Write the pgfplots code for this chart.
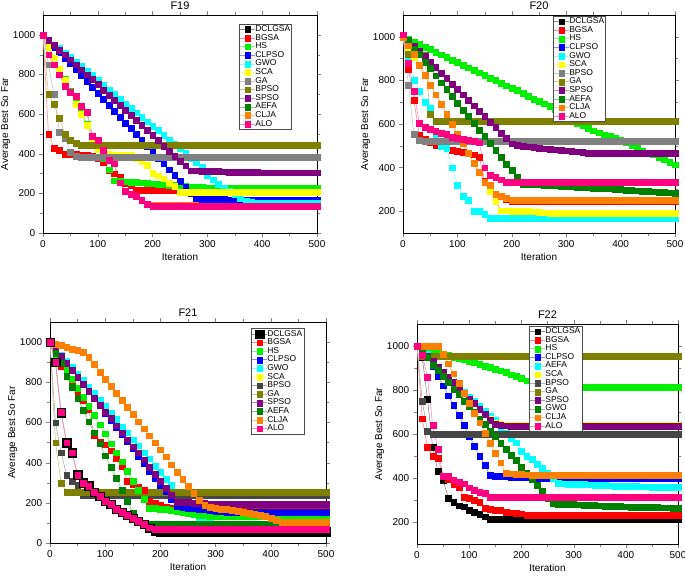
\documentclass[border=0pt]{standalone}
\usepackage{pgfplots}
\pgfplotsset{compat=1.18}
\usepackage{fontspec}
\setmainfont{Liberation Sans}
\definecolor{cBlack}{RGB}{0,0,0}
\definecolor{cRed}{RGB}{255,0,0}
\definecolor{cGreen}{RGB}{0,240,0}
\definecolor{cBlue}{RGB}{0,0,255}
\definecolor{cCyan}{RGB}{0,255,255}
\definecolor{cYellow}{RGB}{255,255,0}
\definecolor{cGray}{RGB}{128,128,128}
\definecolor{cDGray}{RGB}{70,70,70}
\definecolor{cOlive}{RGB}{128,128,0}
\definecolor{cPurple}{RGB}{128,0,128}
\definecolor{cDGreen}{RGB}{0,128,0}
\definecolor{cOrange}{RGB}{255,128,0}
\definecolor{cPink}{RGB}{255,0,128}
\pgfplotsset{
  ser/.style={color=#1!45!white, line width=0.6pt, mark=square*, mark size=2.9pt,
    mark options={fill=#1, draw=#1, line width=0.1pt, solid}},
  panel/.style={scale only axis, xmin=0, xmax=500, ymax=1100,
    xtick={0,100,...,500}, tick align=outside, minor x tick num=1, minor y tick num=1,
    tick label style={font=\fontsize{10}{11}\selectfont},
    /pgf/number format/assume math mode=true, /pgf/number format/1000 sep={},
    scaled ticks=false,
    label style={font=\fontsize{10}{12}\selectfont},
    title style={font=\fontsize{11}{13}\selectfont, yshift=-4pt},
    xlabel={Iteration}, ylabel={Average Best So Far},
    xlabel style={yshift=1pt}, ylabel style={yshift=-4pt},
    legend cell align=left,
    legend image code/.code={\draw[mark repeat=2,mark phase=2] plot coordinates {(0cm,0cm) (0.25cm,0cm) (0.5cm,0cm)};},
    legend style={draw=black!70, fill=white, font=\fontsize{8.5}{9}\selectfont,
      inner sep=1pt, anchor=north west,
      nodes={inner sep=0.4pt, text height=6pt, text depth=1.8pt}},
  },
}
\begin{document}
\begin{tikzpicture}
\path[use as bounding box] (0,0) rectangle (685pt,-577pt);
% ---------------- F19 ----------------
\begin{axis}[panel, at={(43pt,-233pt)}, anchor=south west, width=274pt, height=218pt,
  ymin=0, ytick={0,200,...,1000}, title={F19},
  legend style={at={(0.715,0.959)}}]
\addlegendimage{ser=cBlack}\addlegendentry{DCLGSA}
\addlegendimage{ser=cRed}\addlegendentry{BGSA}
\addlegendimage{ser=cGreen}\addlegendentry{HS}
\addlegendimage{ser=cBlue}\addlegendentry{CLPSO}
\addlegendimage{ser=cCyan}\addlegendentry{GWO}
\addlegendimage{ser=cYellow}\addlegendentry{SCA}
\addlegendimage{ser=cGray}\addlegendentry{GA}
\addlegendimage{ser=cOlive}\addlegendentry{BPSO}
\addlegendimage{ser=cPurple}\addlegendentry{SPSO}
\addlegendimage{ser=cDGreen}\addlegendentry{AEFA}
\addlegendimage{ser=cOrange}\addlegendentry{CLJA}
\addlegendimage{ser=cPink}\addlegendentry{ALO}
% DCLGSA
\addplot[ser=cBlack, forget plot] coordinates {(0,1000)(10,900)(20,850)(30,800)(40,740)(50,710)(60,690)(70,640)(80,610)(90,490)(100,470)(110,420)(120,370)(130,350)(140,255)(150,210)(160,195)(170,185)(180,165)(190,145)(200,137)(210,137)(220,137)(230,137)(240,137)(250,137)(260,137)(270,137)(280,137)(290,137)(300,137)(310,137)(320,137)(330,137)(340,137)(350,137)(360,137)(370,137)(380,137)(390,137)(400,137)(410,137)(420,137)(430,137)(440,137)(450,137)(460,137)(470,137)(480,137)(490,137)(500,137)};
% AEFA
\addplot[ser=cDGreen, forget plot] coordinates {(0,1000)(10,943)(20,885)(30,830)(40,775)(50,715)(60,660)(70,610)(80,550)(90,490)(100,440)(110,380)(120,320)(130,265)(140,262)(150,260)(160,258)(170,256)(180,255)(190,252)(200,250)(210,248)(220,245)(230,243)(240,240)(250,237)(260,235)(270,233)(280,231)(290,230)(300,229)(310,228)(320,227)(330,226)(340,225)(350,225)(360,225)(370,225)(380,225)(390,225)(400,225)(410,225)(420,225)(430,225)(440,225)(450,225)(460,225)(470,225)(480,225)(490,225)(500,225)};
% CLJA
\addplot[ser=cOrange, forget plot] coordinates {(0,1000)(10,900)(20,850)(30,800)(40,740)(50,710)(60,690)(70,640)(80,612)(90,492)(100,472)(110,422)(120,372)(130,352)(140,258)(150,213)(160,198)(170,188)(180,168)(190,148)(200,142)(210,142)(220,142)(230,142)(240,142)(250,142)(260,142)(270,142)(280,142)(290,142)(300,142)(310,142)(320,142)(330,142)(340,142)(350,142)(360,142)(370,142)(380,142)(390,142)(400,142)(410,142)(420,142)(430,142)(440,142)(450,142)(460,142)(470,142)(480,142)(490,142)(500,142)};
% BGSA
\addplot[ser=cRed, forget plot] coordinates {(0,1000)(10,500)(20,430)(30,420)(40,400)(50,398)(60,400)(70,396)(80,393)(90,390)(100,380)(110,360)(120,315)(130,300)(140,285)(150,250)(160,240)(170,215)(180,215)(190,215)(200,215)(210,215)(220,215)(230,215)(240,215)(250,215)(260,215)(270,215)(280,215)(290,215)(300,215)(310,215)(320,215)(330,215)(340,215)(350,215)(360,215)(370,215)(380,215)(390,215)(400,215)(410,215)(420,215)(430,215)(440,215)(450,215)(460,215)(470,215)(480,215)(490,215)(500,215)};
% HS
\addplot[ser=cGreen, forget plot] coordinates {(0,1000)(10,943)(20,885)(30,830)(40,775)(50,715)(60,660)(70,610)(80,550)(90,490)(100,440)(110,380)(120,320)(130,265)(140,262)(150,260)(160,258)(170,256)(180,255)(190,252)(200,250)(210,248)(220,245)(230,243)(240,240)(250,237)(260,235)(270,233)(280,231)(290,230)(300,229)(310,228)(320,227)(330,226)(340,225)(350,225)(360,225)(370,225)(380,225)(390,225)(400,225)(410,225)(420,225)(430,225)(440,225)(450,225)(460,225)(470,225)(480,225)(490,225)(500,225)};
% CLPSO
\addplot[ser=cBlue, forget plot] coordinates {(0,1000)(10,970)(20,940)(30,912)(40,880)(50,855)(60,825)(70,795)(80,765)(90,735)(100,705)(110,675)(120,645)(130,615)(140,585)(150,555)(160,528)(170,498)(180,470)(190,440)(200,410)(210,380)(220,351)(230,320)(240,292)(250,262)(260,233)(270,200)(280,174)(290,173)(300,172)(310,171)(320,170)(330,170)(340,169)(350,168)(360,167)(370,166)(380,166)(390,166)(400,166)(410,166)(420,166)(430,166)(440,166)(450,166)(460,166)(470,166)(480,166)(490,166)(500,166)};
% GWO
\addplot[ser=cCyan, forget plot] coordinates {(0,1000)(10,975)(20,950)(30,932)(40,910)(50,888)(60,865)(70,842)(80,818)(90,795)(100,770)(110,748)(120,722)(130,700)(140,675)(150,652)(160,630)(170,608)(180,585)(190,562)(200,540)(210,518)(220,495)(230,472)(240,450)(250,427)(260,405)(270,380)(280,358)(290,335)(300,292)(310,270)(320,248)(330,228)(340,210)(350,195)(360,175)(370,160)(380,155)(390,153)(400,150)(410,150)(420,150)(430,150)(440,150)(450,150)(460,150)(470,150)(480,150)(490,150)(500,150)};
% SCA
\addplot[ser=cYellow, forget plot] coordinates {(0,1000)(10,940)(20,885)(30,830)(40,770)(50,710)(60,650)(70,600)(80,545)(90,480)(100,422)(110,400)(120,397)(130,396)(140,395)(150,394)(160,392)(170,380)(180,363)(190,343)(200,304)(210,290)(220,275)(230,253)(240,236)(250,206)(260,205)(270,205)(280,205)(290,205)(300,205)(310,205)(320,205)(330,205)(340,205)(350,205)(360,205)(370,205)(380,205)(390,205)(400,205)(410,205)(420,205)(430,205)(440,205)(450,205)(460,205)(470,205)(480,205)(490,205)(500,205)};
% GA
\addplot[ser=cGray, forget plot] coordinates {(0,1000)(10,850)(20,700)(30,510)(40,478)(50,408)(60,390)(70,383)(80,383)(90,383)(100,383)(110,383)(120,383)(130,383)(140,383)(150,383)(160,383)(170,383)(180,383)(190,383)(200,383)(210,383)(220,383)(230,383)(240,383)(250,383)(260,383)(270,383)(280,383)(290,383)(300,383)(310,383)(320,383)(330,383)(340,383)(350,383)(360,383)(370,383)(380,383)(390,383)(400,383)(410,383)(420,383)(430,383)(440,383)(450,383)(460,383)(470,383)(480,383)(490,383)(500,383)};
% BPSO
\addplot[ser=cOlive, forget plot] coordinates {(0,1000)(10,700)(20,650)(30,578)(40,500)(50,470)(60,455)(70,445)(80,445)(90,445)(100,445)(110,445)(120,445)(130,445)(140,445)(150,445)(160,445)(170,445)(180,445)(190,445)(200,445)(210,445)(220,445)(230,445)(240,445)(250,445)(260,445)(270,445)(280,445)(290,445)(300,445)(310,445)(320,445)(330,445)(340,445)(350,445)(360,445)(370,445)(380,445)(390,445)(400,445)(410,445)(420,445)(430,445)(440,445)(450,445)(460,445)(470,445)(480,445)(490,445)(500,445)};
% SPSO
\addplot[ser=cPurple, forget plot] coordinates {(0,1000)(10,975)(20,950)(30,925)(40,900)(50,875)(60,850)(70,825)(80,800)(90,775)(100,750)(110,722)(120,697)(130,670)(140,645)(150,620)(160,595)(170,570)(180,545)(190,520)(200,495)(210,467)(220,440)(230,415)(240,390)(250,365)(260,340)(270,315)(280,315)(290,314)(300,313)(310,312)(320,311)(330,310)(340,309)(350,308)(360,308)(370,307)(380,307)(390,306)(400,305)(410,305)(420,305)(430,305)(440,305)(450,305)(460,305)(470,305)(480,305)(490,305)(500,305)};
% ALO
\addplot[ser=cPink, forget plot] coordinates {(0,1000)(10,900)(20,850)(30,800)(40,740)(50,710)(60,690)(70,640)(80,610)(90,490)(100,470)(110,420)(120,370)(130,350)(140,255)(150,210)(160,195)(170,185)(180,165)(190,145)(200,137)(210,137)(220,137)(230,137)(240,137)(250,137)(260,137)(270,137)(280,137)(290,137)(300,137)(310,137)(320,137)(330,137)(340,137)(350,137)(360,137)(370,137)(380,137)(390,137)(400,137)(410,137)(420,137)(430,137)(440,137)(450,137)(460,137)(470,137)(480,137)(490,137)(500,137)};
\end{axis}
% ---------------- F20 ----------------
\begin{axis}[panel, at={(403pt,-233pt)}, anchor=south west, width=272pt, height=218pt,
  ymin=100, ytick={200,400,...,1000}, title={F20},
  legend style={at={(0.551,0.995)}}]
\addlegendimage{ser=cBlack}\addlegendentry{DCLGSA}
\addlegendimage{ser=cRed}\addlegendentry{BGSA}
\addlegendimage{ser=cGreen}\addlegendentry{HS}
\addlegendimage{ser=cBlue}\addlegendentry{CLPSO}
\addlegendimage{ser=cCyan}\addlegendentry{GWO}
\addlegendimage{ser=cYellow}\addlegendentry{SCA}
\addlegendimage{ser=cGray}\addlegendentry{BPSO}
\addlegendimage{ser=cOlive}\addlegendentry{GA}
\addlegendimage{ser=cPurple}\addlegendentry{SPSO}
\addlegendimage{ser=cDGreen}\addlegendentry{AEFA}
\addlegendimage{ser=cOrange}\addlegendentry{CLJA}
\addlegendimage{ser=cPink}\addlegendentry{ALO}
% DCLGSA
\addplot[ser=cBlack, forget plot] coordinates {(0,1000)(10,950)(20,905)(30,870)(40,825)(50,780)(60,735)(70,690)(80,645)(90,600)(100,555)(110,510)(120,465)(130,420)(140,380)(150,335)(160,290)(170,247)(180,203)(190,203)(200,202)(210,201)(220,200)(230,199)(240,198)(250,196)(260,194)(270,193)(280,192)(290,191)(300,190)(310,190)(320,190)(330,190)(340,190)(350,190)(360,190)(370,190)(380,190)(390,190)(400,190)(410,190)(420,190)(430,190)(440,190)(450,190)(460,190)(470,190)(480,190)(490,190)(500,190)};
% CLPSO
\addplot[ser=cBlue, forget plot] coordinates {(0,1000)(10,950)(20,905)(30,870)(40,825)(50,780)(60,735)(70,690)(80,645)(90,600)(100,555)(110,510)(120,465)(130,420)(140,380)(150,335)(160,290)(170,247)(180,203)(190,203)(200,202)(210,201)(220,200)(230,199)(240,198)(250,196)(260,194)(270,193)(280,192)(290,191)(300,190)(310,190)(320,190)(330,190)(340,190)(350,190)(360,190)(370,190)(380,190)(390,190)(400,190)(410,190)(420,190)(430,190)(440,190)(450,190)(460,190)(470,190)(480,190)(490,190)(500,190)};
% BGSA
\addplot[ser=cRed, forget plot] coordinates {(0,1000)(10,850)(20,710)(30,550)(40,530)(50,515)(60,505)(70,500)(80,495)(90,480)(100,475)(110,470)(120,465)(130,460)(140,450)(150,340)(160,305)(170,280)(180,270)(190,255)(200,245)(210,245)(220,245)(230,245)(240,245)(250,245)(260,245)(270,245)(280,245)(290,245)(300,245)(310,245)(320,245)(330,245)(340,245)(350,245)(360,245)(370,245)(380,245)(390,245)(400,245)(410,245)(420,245)(430,245)(440,245)(450,245)(460,245)(470,245)(480,245)(490,245)(500,245)};
% HS
\addplot[ser=cGreen, forget plot] coordinates {(0,1000)(10,990)(20,978)(30,966)(40,954)(50,942)(60,930)(70,919)(80,907)(90,895)(100,883)(110,871)(120,859)(130,848)(140,836)(150,825)(160,812)(170,800)(180,787)(190,776)(200,765)(210,754)(220,741)(230,727)(240,714)(250,704)(260,694)(270,684)(280,668)(290,652)(300,636)(310,621)(320,606)(330,594)(340,582)(350,570)(360,561)(370,552)(380,544)(390,536)(400,529)(410,516)(420,503)(430,489)(440,475)(450,468)(460,460)(470,449)(480,437)(490,426)(500,414)};
% GWO
\addplot[ser=cCyan, forget plot] coordinates {(0,1000)(10,900)(20,800)(30,750)(40,700)(50,675)(60,540)(70,500)(80,490)(90,400)(100,320)(110,270)(120,250)(130,200)(140,200)(150,188)(160,170)(170,170)(180,170)(190,170)(200,170)(210,170)(220,170)(230,170)(240,170)(250,170)(260,170)(270,170)(280,170)(290,170)(300,170)(310,170)(320,170)(330,170)(340,170)(350,170)(360,170)(370,170)(380,170)(390,170)(400,170)(410,170)(420,170)(430,170)(440,170)(450,170)(460,170)(470,170)(480,170)(490,170)(500,170)};
% SCA
\addplot[ser=cYellow, forget plot] coordinates {(0,1000)(10,950)(20,905)(30,870)(40,825)(50,780)(60,735)(70,690)(80,645)(90,600)(100,555)(110,510)(120,465)(130,420)(140,380)(150,335)(160,290)(170,247)(180,203)(190,203)(200,202)(210,201)(220,200)(230,199)(240,198)(250,196)(260,194)(270,193)(280,192)(290,191)(300,190)(310,190)(320,190)(330,190)(340,190)(350,190)(360,190)(370,190)(380,190)(390,190)(400,190)(410,190)(420,190)(430,190)(440,190)(450,190)(460,190)(470,190)(480,190)(490,190)(500,190)};
% BPSO
\addplot[ser=cGray, forget plot] coordinates {(0,1000)(10,780)(20,553)(30,527)(40,520)(50,520)(60,520)(70,520)(80,520)(90,520)(100,520)(110,520)(120,520)(130,520)(140,520)(150,520)(160,520)(170,520)(180,520)(190,520)(200,520)(210,520)(220,520)(230,520)(240,520)(250,520)(260,520)(270,520)(280,520)(290,520)(300,520)(310,520)(320,520)(330,520)(340,520)(350,520)(360,520)(370,520)(380,520)(390,520)(400,520)(410,520)(420,520)(430,520)(440,520)(450,520)(460,520)(470,520)(480,520)(490,520)(500,520)};
% GA
\addplot[ser=cOlive, forget plot] coordinates {(0,1000)(10,920)(20,920)(30,920)(40,916)(50,645)(60,615)(70,615)(80,615)(90,615)(100,615)(110,615)(120,615)(130,615)(140,615)(150,615)(160,615)(170,615)(180,615)(190,615)(200,615)(210,615)(220,615)(230,615)(240,615)(250,615)(260,615)(270,615)(280,615)(290,615)(300,615)(310,615)(320,615)(330,615)(340,615)(350,615)(360,615)(370,615)(380,615)(390,615)(400,615)(410,615)(420,615)(430,615)(440,615)(450,615)(460,615)(470,615)(480,615)(490,615)(500,615)};
% SPSO
\addplot[ser=cPurple, forget plot] coordinates {(0,1000)(10,980)(20,960)(30,935)(40,910)(50,885)(60,860)(70,835)(80,810)(90,785)(100,760)(110,735)(120,710)(130,685)(140,660)(150,635)(160,610)(170,585)(180,560)(190,535)(200,510)(210,505)(220,500)(230,497)(240,494)(250,490)(260,487)(270,485)(280,483)(290,480)(300,478)(310,476)(320,474)(330,471)(340,468)(350,466)(360,465)(370,465)(380,465)(390,465)(400,465)(410,465)(420,465)(430,465)(440,465)(450,465)(460,465)(470,465)(480,465)(490,465)(500,465)};
% AEFA
\addplot[ser=cDGreen, forget plot] coordinates {(0,1000)(10,985)(20,945)(30,920)(40,885)(50,855)(60,822)(70,790)(80,760)(90,728)(100,697)(110,665)(120,635)(130,605)(140,573)(150,543)(160,512)(170,480)(180,450)(190,418)(200,388)(210,355)(220,325)(230,325)(240,324)(250,323)(260,321)(270,320)(280,318)(290,316)(300,315)(310,313)(320,312)(330,311)(340,310)(350,308)(360,307)(370,305)(380,304)(390,302)(400,300)(410,298)(420,297)(430,295)(440,293)(450,291)(460,290)(470,288)(480,287)(490,286)(500,285)};
% CLJA
\addplot[ser=cOrange, forget plot] coordinates {(0,1000)(10,960)(20,920)(30,870)(40,825)(50,780)(60,735)(70,690)(80,645)(90,600)(100,555)(110,510)(120,465)(130,420)(140,380)(150,335)(160,320)(170,280)(180,270)(190,260)(200,250)(210,250)(220,250)(230,250)(240,250)(250,250)(260,250)(270,250)(280,250)(290,250)(300,250)(310,250)(320,250)(330,250)(340,250)(350,250)(360,250)(370,250)(380,250)(390,250)(400,250)(410,250)(420,250)(430,250)(440,250)(450,250)(460,250)(470,250)(480,250)(490,250)(500,250)};
% ALO
\addplot[ser=cPink, forget plot] coordinates {(0,1010)(10,880)(20,750)(30,603)(40,587)(50,577)(60,567)(70,560)(80,553)(90,540)(100,535)(110,530)(120,525)(130,520)(140,515)(150,400)(160,365)(170,355)(180,345)(190,335)(200,335)(210,335)(220,335)(230,335)(240,335)(250,335)(260,335)(270,335)(280,335)(290,335)(300,335)(310,335)(320,335)(330,335)(340,335)(350,335)(360,335)(370,335)(380,335)(390,335)(400,335)(410,335)(420,335)(430,335)(440,335)(450,335)(460,335)(470,335)(480,335)(490,335)(500,335)};
\end{axis}
% ---------------- F21 ----------------
\begin{axis}[panel, at={(50pt,-543pt)}, anchor=south west, width=276pt, height=221pt,
  ymin=0, ytick={0,200,...,1000}, title={F21},
  legend style={at={(0.728,0.971)}}]
\addlegendimage{ser=cBlack, mark size=4.2pt}\addlegendentry{DCLGSA}
\addlegendimage{ser=cRed}\addlegendentry{BGSA}
\addlegendimage{ser=cGreen}\addlegendentry{HS}
\addlegendimage{ser=cBlue}\addlegendentry{CLPSO}
\addlegendimage{ser=cCyan}\addlegendentry{GWO}
\addlegendimage{ser=cYellow}\addlegendentry{SCA}
\addlegendimage{ser=cDGray}\addlegendentry{BPSO}
\addlegendimage{ser=cOlive}\addlegendentry{GA}
\addlegendimage{ser=cPurple}\addlegendentry{SPSO}
\addlegendimage{ser=cDGreen}\addlegendentry{AEFA}
\addlegendimage{ser=cOrange}\addlegendentry{CLJA}
\addlegendimage{ser=cPink}\addlegendentry{ALO}
% SCA
\addplot[ser=cYellow, forget plot] coordinates {(0,1000)(10,900)(20,650)(30,500)(40,450)(50,340)(60,300)(70,285)(80,255)(90,235)(100,210)(110,195)(120,170)(130,155)(140,140)(150,125)(160,110)(170,95)(180,80)(190,80)(200,80)(210,80)(220,80)(230,80)(240,80)(250,80)(260,80)(270,80)(280,80)(290,80)(300,80)(310,80)(320,80)(330,80)(340,80)(350,80)(360,80)(370,80)(380,80)(390,80)(400,80)(410,80)(420,80)(430,80)(440,80)(450,80)(460,80)(470,80)(480,80)(490,80)(500,80)};
% GWO
\addplot[ser=cCyan, forget plot] coordinates {(0,1000)(10,960)(20,935)(30,905)(40,875)(50,840)(60,810)(70,775)(80,745)(90,710)(100,680)(110,645)(120,615)(130,580)(140,550)(150,515)(160,485)(170,450)(180,420)(190,385)(200,355)(210,320)(220,290)(230,255)(240,220)(250,190)(260,165)(270,125)(280,110)(290,100)(300,95)(310,95)(320,95)(330,95)(340,95)(350,95)(360,95)(370,95)(380,95)(390,95)(400,95)(410,95)(420,95)(430,95)(440,95)(450,95)(460,95)(470,95)(480,95)(490,95)(500,95)};
% BPSO
\addplot[ser=cDGray, forget plot] coordinates {(0,1000)(10,600)(20,450)(30,340)(40,310)(50,290)(60,240)(70,240)(80,240)(90,240)(100,240)(110,240)(120,240)(130,240)(140,240)(150,240)(160,240)(170,240)(180,240)(190,240)(200,240)(210,240)(220,240)(230,240)(240,240)(250,240)(260,240)(270,240)(280,240)(290,240)(300,240)(310,240)(320,240)(330,240)(340,240)(350,240)(360,240)(370,240)(380,240)(390,240)(400,240)(410,240)(420,240)(430,240)(440,240)(450,240)(460,240)(470,240)(480,240)(490,240)(500,240)};
% GA
\addplot[ser=cOlive, forget plot] coordinates {(0,1000)(10,500)(20,300)(30,255)(40,255)(50,255)(60,255)(70,255)(80,255)(90,255)(100,255)(110,255)(120,255)(130,255)(140,255)(150,255)(160,255)(170,255)(180,255)(190,255)(200,255)(210,255)(220,255)(230,255)(240,255)(250,255)(260,255)(270,255)(280,255)(290,255)(300,255)(310,255)(320,255)(330,255)(340,255)(350,255)(360,255)(370,255)(380,255)(390,255)(400,255)(410,255)(420,255)(430,255)(440,255)(450,255)(460,255)(470,255)(480,255)(490,255)(500,255)};
% BGSA
\addplot[ser=cRed, forget plot] coordinates {(0,1000)(10,920)(20,880)(30,840)(40,800)(50,750)(60,710)(70,665)(80,535)(90,505)(100,490)(110,460)(120,420)(130,385)(140,310)(150,295)(160,280)(170,265)(180,210)(190,200)(200,190)(210,180)(220,175)(230,172)(240,172)(250,172)(260,172)(270,172)(280,172)(290,172)(300,172)(310,172)(320,172)(330,172)(340,172)(350,172)(360,172)(370,172)(380,172)(390,172)(400,172)(410,172)(420,172)(430,172)(440,172)(450,172)(460,172)(470,172)(480,172)(490,172)(500,172)};
% HS
\addplot[ser=cGreen, forget plot] coordinates {(0,1000)(10,930)(20,900)(30,860)(40,815)(50,770)(60,725)(70,680)(80,635)(90,590)(100,545)(110,495)(120,450)(130,405)(140,360)(150,310)(160,265)(170,220)(180,175)(190,172)(200,170)(210,168)(220,165)(230,160)(240,155)(250,150)(260,145)(270,140)(280,138)(290,135)(300,132)(310,132)(320,132)(330,132)(340,132)(350,132)(360,132)(370,132)(380,132)(390,132)(400,132)(410,132)(420,132)(430,132)(440,132)(450,132)(460,132)(470,132)(480,132)(490,132)(500,132)};
% CLPSO
\addplot[ser=cBlue, forget plot] coordinates {(0,1000)(10,960)(20,930)(30,895)(40,860)(50,825)(60,790)(70,755)(80,720)(90,685)(100,645)(110,610)(120,575)(130,540)(140,505)(150,470)(160,430)(170,395)(180,360)(190,325)(200,290)(210,260)(220,220)(230,185)(240,180)(250,175)(260,172)(270,170)(280,168)(290,165)(300,160)(310,157)(320,156)(330,155)(340,155)(350,155)(360,155)(370,155)(380,155)(390,155)(400,155)(410,155)(420,155)(430,155)(440,155)(450,155)(460,155)(470,155)(480,155)(490,155)(500,155)};
% SPSO
\addplot[ser=cPurple, forget plot] coordinates {(0,1000)(10,965)(20,930)(30,895)(40,860)(50,825)(60,790)(70,755)(80,720)(90,685)(100,650)(110,620)(120,585)(130,550)(140,515)(150,480)(160,450)(170,415)(180,380)(190,345)(200,310)(210,275)(220,240)(230,205)(240,205)(250,203)(260,200)(270,200)(280,198)(290,195)(300,195)(310,193)(320,192)(330,192)(340,192)(350,192)(360,192)(370,192)(380,192)(390,192)(400,192)(410,192)(420,192)(430,192)(440,192)(450,192)(460,192)(470,192)(480,192)(490,192)(500,192)};
% AEFA
\addplot[ser=cDGreen, forget plot] coordinates {(0,1000)(10,945)(20,895)(30,830)(40,775)(50,720)(60,660)(70,605)(80,550)(90,495)(100,435)(110,380)(120,325)(130,265)(140,210)(150,150)(160,110)(170,95)(180,95)(190,95)(200,95)(210,95)(220,95)(230,95)(240,95)(250,95)(260,95)(270,95)(280,95)(290,95)(300,95)(310,95)(320,95)(330,95)(340,95)(350,95)(360,95)(370,95)(380,95)(390,95)(400,95)(410,95)(420,95)(430,95)(440,95)(450,95)(460,95)(470,95)(480,95)(490,95)(500,95)};
% CLJA
\addplot[ser=cOrange, forget plot] coordinates {(0,1000)(10,990)(20,985)(30,975)(40,965)(50,960)(60,950)(70,925)(80,890)(90,850)(100,815)(110,780)(120,745)(130,710)(140,675)(150,640)(160,605)(170,570)(180,535)(190,500)(200,465)(210,430)(220,390)(230,355)(240,320)(250,285)(260,250)(270,215)(280,190)(290,180)(300,175)(310,170)(320,168)(330,165)(340,160)(350,155)(360,150)(370,145)(380,140)(390,135)(400,125)(410,115)(420,105)(430,105)(440,105)(450,105)(460,105)(470,105)(480,105)(490,105)(500,105)};
% DCLGSA
\addplot[ser=cBlack, mark size=4.2pt, forget plot] coordinates {(0,1000)(10,900)(20,650)(30,500)(40,450)(50,340)(60,300)(70,285)(80,255)(90,235)(100,210)(110,195)(120,170)(130,155)(140,140)(150,125)(160,110)(170,95)(180,75)(190,60)(200,58)(210,58)(220,58)(230,58)(240,58)(250,58)(260,58)(270,58)(280,58)(290,58)(300,58)(310,58)(320,58)(330,58)(340,58)(350,58)(360,58)(370,58)(380,58)(390,58)(400,58)(410,58)(420,58)(430,58)(440,58)(450,58)(460,58)(470,58)(480,58)(490,58)(500,58)};
% ALO
\addplot[ser=cPink, forget plot] coordinates {(0,1000)(10,900)(20,650)(30,500)(40,450)(50,340)(60,300)(70,285)(80,255)(90,235)(100,210)(110,195)(120,170)(130,155)(140,140)(150,125)(160,110)(170,95)(180,77)(190,70)(200,70)(210,70)(220,70)(230,70)(240,70)(250,70)(260,70)(270,70)(280,70)(290,70)(300,70)(310,70)(320,70)(330,70)(340,70)(350,70)(360,70)(370,70)(380,70)(390,70)(400,70)(410,70)(420,70)(430,70)(440,70)(450,70)(460,70)(470,70)(480,70)(490,70)(500,70)};
\end{axis}
% ---------------- F22 ----------------
\begin{axis}[panel, at={(417pt,-544pt)}, anchor=south west, width=261pt, height=220pt,
  ymin=100, ytick={200,400,...,1000}, title={F22},
  legend style={at={(0.429,0.991)}}]
\addlegendimage{ser=cBlack}\addlegendentry{DCLGSA}
\addlegendimage{ser=cRed}\addlegendentry{BGSA}
\addlegendimage{ser=cGreen}\addlegendentry{HS}
\addlegendimage{ser=cBlue}\addlegendentry{CLPSO}
\addlegendimage{ser=cCyan}\addlegendentry{AEFA}
\addlegendimage{ser=cYellow}\addlegendentry{SCA}
\addlegendimage{ser=cDGray}\addlegendentry{BPSO}
\addlegendimage{ser=cOlive}\addlegendentry{GA}
\addlegendimage{ser=cPurple}\addlegendentry{SPSO}
\addlegendimage{ser=cDGreen}\addlegendentry{GWO}
\addlegendimage{ser=cOrange}\addlegendentry{CLJA}
\addlegendimage{ser=cPink}\addlegendentry{ALO}
% DCLGSA
\addplot[ser=cBlack, forget plot] coordinates {(0,1000)(10,950)(20,760)(30,540)(40,430)(50,390)(60,310)(70,290)(80,275)(90,270)(100,255)(110,245)(120,235)(130,225)(140,215)(150,212)(160,212)(170,212)(180,212)(190,212)(200,212)(210,212)(220,212)(230,212)(240,212)(250,212)(260,212)(270,212)(280,212)(290,212)(300,212)(310,212)(320,212)(330,212)(340,212)(350,212)(360,212)(370,212)(380,212)(390,212)(400,212)(410,212)(420,212)(430,212)(440,212)(450,212)(460,212)(470,212)(480,212)(490,212)(500,212)};
% BGSA
\addplot[ser=cRed, forget plot] coordinates {(0,1000)(10,670)(20,540)(30,500)(40,490)(50,410)(60,395)(70,370)(80,360)(90,312)(100,310)(110,300)(120,290)(130,265)(140,260)(150,255)(160,253)(170,245)(180,243)(190,240)(200,238)(210,232)(220,230)(230,230)(240,230)(250,230)(260,230)(270,230)(280,230)(290,230)(300,230)(310,230)(320,230)(330,230)(340,230)(350,230)(360,230)(370,230)(380,230)(390,230)(400,230)(410,230)(420,230)(430,230)(440,230)(450,230)(460,230)(470,230)(480,230)(490,230)(500,230)};
% HS
\addplot[ser=cGreen, forget plot] coordinates {(0,1000)(10,995)(20,985)(30,978)(40,972)(50,965)(60,958)(70,950)(80,945)(90,940)(100,932)(110,925)(120,918)(130,910)(140,903)(150,895)(160,888)(170,880)(180,870)(190,862)(200,853)(210,843)(220,830)(230,815)(240,812)(250,812)(260,812)(270,812)(280,812)(290,812)(300,812)(310,812)(320,812)(330,812)(340,812)(350,812)(360,812)(370,812)(380,812)(390,812)(400,812)(410,812)(420,812)(430,812)(440,812)(450,812)(460,812)(470,812)(480,812)(490,812)(500,812)};
% CLPSO
\addplot[ser=cBlue, forget plot] coordinates {(0,1000)(10,990)(20,950)(30,908)(40,865)(50,820)(60,775)(70,730)(80,685)(90,640)(100,592)(110,545)(120,500)(130,458)(140,412)(150,410)(160,410)(170,408)(180,406)(190,405)(200,404)(210,403)(220,402)(230,401)(240,400)(250,400)(260,400)(270,400)(280,400)(290,400)(300,400)(310,400)(320,400)(330,400)(340,400)(350,400)(360,400)(370,400)(380,400)(390,400)(400,400)(410,400)(420,400)(430,400)(440,400)(450,400)(460,400)(470,400)(480,400)(490,400)(500,400)};
% AEFA
\addplot[ser=cCyan, forget plot] coordinates {(0,1000)(10,1000)(20,965)(30,935)(40,905)(50,880)(60,855)(70,833)(80,812)(90,792)(100,770)(110,750)(120,727)(130,705)(140,683)(150,663)(160,630)(170,605)(180,581)(190,561)(200,523)(210,500)(220,485)(230,465)(240,447)(250,424)(260,400)(270,378)(280,375)(290,374)(300,373)(310,372)(320,371)(330,370)(340,369)(350,368)(360,367)(370,366)(380,365)(390,364)(400,363)(410,362)(420,362)(430,361)(440,361)(450,360)(460,360)(470,360)(480,360)(490,360)(500,360)};
% SCA
\addplot[ser=cYellow, forget plot] coordinates {(0,1000)(10,975)(20,955)(30,930)(40,905)(50,880)(60,860)(70,835)(80,810)(90,785)(100,760)(110,740)(120,715)(130,690)(140,668)(150,650)(160,645)(170,642)(180,640)(190,640)(200,640)(210,640)(220,640)(230,640)(240,640)(250,640)(260,640)(270,640)(280,640)(290,640)(300,640)(310,640)(320,640)(330,640)(340,640)(350,640)(360,640)(370,640)(380,640)(390,640)(400,640)(410,640)(420,640)(430,640)(440,640)(450,640)(460,640)(470,640)(480,640)(490,640)(500,640)};
% BPSO
\addplot[ser=cDGray, forget plot] coordinates {(0,1000)(10,750)(20,615)(30,600)(40,598)(50,598)(60,598)(70,598)(80,598)(90,598)(100,598)(110,598)(120,598)(130,598)(140,598)(150,598)(160,598)(170,598)(180,598)(190,598)(200,598)(210,598)(220,598)(230,598)(240,598)(250,598)(260,598)(270,598)(280,598)(290,598)(300,598)(310,598)(320,598)(330,598)(340,598)(350,598)(360,598)(370,598)(380,598)(390,598)(400,598)(410,598)(420,598)(430,598)(440,598)(450,598)(460,598)(470,598)(480,598)(490,598)(500,598)};
% GA
\addplot[ser=cOlive, forget plot] coordinates {(0,1000)(10,955)(20,955)(30,955)(40,955)(50,955)(60,955)(70,955)(80,955)(90,955)(100,955)(110,955)(120,955)(130,955)(140,955)(150,955)(160,955)(170,955)(180,955)(190,955)(200,955)(210,955)(220,955)(230,955)(240,955)(250,955)(260,955)(270,955)(280,955)(290,955)(300,955)(310,955)(320,955)(330,955)(340,955)(350,955)(360,955)(370,955)(380,955)(390,955)(400,955)(410,955)(420,955)(430,955)(440,955)(450,955)(460,955)(470,955)(480,955)(490,955)(500,955)};
% SPSO
\addplot[ser=cPurple, forget plot] coordinates {(0,1000)(10,975)(20,955)(30,930)(40,905)(50,880)(60,860)(70,835)(80,810)(90,785)(100,760)(110,740)(120,715)(130,690)(140,665)(150,645)(160,640)(170,638)(180,637)(190,636)(200,635)(210,635)(220,635)(230,635)(240,635)(250,635)(260,635)(270,635)(280,635)(290,635)(300,635)(310,635)(320,635)(330,635)(340,635)(350,635)(360,635)(370,635)(380,635)(390,635)(400,635)(410,635)(420,635)(430,635)(440,635)(450,635)(460,635)(470,635)(480,635)(490,635)(500,635)};
% GWO
\addplot[ser=cDGreen, forget plot] coordinates {(0,1000)(10,975)(20,950)(30,915)(40,890)(50,865)(60,835)(70,805)(80,780)(90,750)(100,725)(110,700)(120,670)(130,645)(140,615)(150,590)(160,560)(170,530)(180,505)(190,480)(200,450)(210,425)(220,397)(230,368)(240,340)(250,310)(260,285)(270,282)(280,281)(290,280)(300,280)(310,279)(320,278)(330,277)(340,276)(350,275)(360,274)(370,273)(380,272)(390,271)(400,270)(410,269)(420,269)(430,268)(440,268)(450,267)(460,267)(470,266)(480,266)(490,265)(500,265)};
% CLJA
\addplot[ser=cOrange, forget plot] coordinates {(0,1000)(10,1000)(20,1000)(30,1000)(40,1000)(50,965)(60,920)(70,875)(80,830)(90,785)(100,740)(110,697)(120,652)(130,605)(140,560)(150,512)(160,470)(170,422)(180,420)(190,418)(200,417)(210,416)(220,415)(230,415)(240,414)(250,413)(260,412)(270,412)(280,412)(290,412)(300,412)(310,412)(320,412)(330,412)(340,412)(350,412)(360,412)(370,412)(380,412)(390,412)(400,412)(410,412)(420,412)(430,412)(440,412)(450,412)(460,412)(470,412)(480,412)(490,412)(500,412)};
% ALO
\addplot[ser=cPink, forget plot] coordinates {(0,1000)(10,960)(20,860)(30,640)(40,530)(50,410)(60,410)(70,390)(80,380)(90,375)(100,357)(110,345)(120,336)(130,330)(140,315)(150,312)(160,312)(170,312)(180,312)(190,312)(200,312)(210,312)(220,312)(230,312)(240,312)(250,312)(260,312)(270,312)(280,312)(290,312)(300,312)(310,312)(320,312)(330,312)(340,312)(350,312)(360,312)(370,312)(380,312)(390,312)(400,312)(410,312)(420,312)(430,312)(440,312)(450,312)(460,312)(470,312)(480,312)(490,312)(500,312)};
\end{axis}
\end{tikzpicture}
\end{document}
